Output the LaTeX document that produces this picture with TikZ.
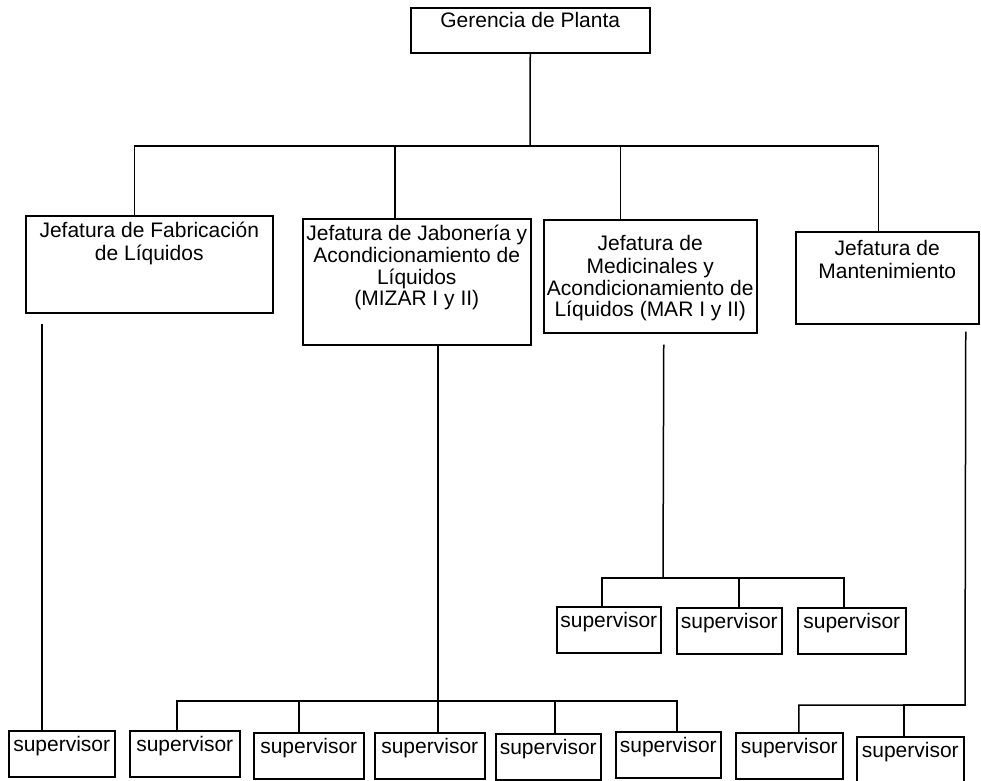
\documentclass[tikz,border=0pt]{standalone}
\usepackage{fontspec}
\setmainfont{Liberation Sans}
\newcommand{\cajatexto}[4]{\parbox[t][#2][t]{#1}{\centering\vspace*{#3}\strut #4}}
\tikzset{
  caja/.style={draw, line width=1.5pt, inner sep=0pt, anchor=north west,
    font=\fontsize{21}{21.5}\selectfont},
  linea/.style={line width=1.5pt}
}
\begin{document}
\begin{tikzpicture}[x=1pt,y=-1pt]
    \useasboundingbox (0,0) rectangle (981,780);
    % gerencia y jefaturas
    \node[caja] (ger) at (410,7) {\cajatexto{239pt}{45pt}{5pt}{Gerencia de Planta}};
    \node[caja] (fab) at (25,215) {\cajatexto{247pt}{97pt}{6pt}{Jefatura de Fabricación\\de Líquidos}};
    \node[caja] (jab) at (302,218) {\cajatexto{228pt}{126pt}{6pt}{Jefatura de Jabonería y\\Acondicionamiento de\\Líquidos\\(MIZAR I y II)}};
    \node[caja] (med) at (543,219) {\cajatexto{213pt}{113pt}{16pt}{Jefatura de\\Medicinales y\\Acondicionamiento de\\Líquidos (MAR I y II)}};
    \node[caja] (man) at (795,231) {\cajatexto{183pt}{92pt}{9pt}{Jefatura de\\Mantenimiento}};
    % supervisores
    \foreach \n/\x/\y/\w in {sF/8/730/106, sG/129/730/110, sH/253/732/110,
        sI/374/732/110, sJ/495/733/105, sK/615/731/105, sA/556/606/104,
        sB/676/607/105, sC/797/607/108, sD/735/732/107, sE/856/736/107}
      \node[caja] (\n) at (\x,\y) {\cajatexto{\w pt}{46pt}{6pt}{supervisor}};
    % conectores
    \coordinate (bus) at (530,146);
    \draw[linea] (ger.south) -- (bus);
    \draw[linea] ([xshift=-15pt]fab.north) |- (bus) -| ([xshift=-9pt]man.north);
    \draw[linea] ([xshift=-22pt]jab.north) -- ([xshift=-22pt]jab.north |- bus);
    \draw[linea] ([xshift=-30pt]med.north) -- ([xshift=-30pt]med.north |- bus);
    \coordinate (fabB) at ([shift={(17pt,-10pt)}]fab.south west);
    \draw[linea] (fabB) -- (fabB |- sF.north);
    \coordinate (busJ) at (437,701);
    \draw[linea] ([xshift=21pt]jab.south) -- ([xshift=21pt]jab.south |- sI.north);
    \draw[linea] ([xshift=-8pt]sG.north) |- (busJ) -| ([xshift=8.5pt]sK.north);
    \draw[linea] ([xshift=-10pt]sH.north) |- (busJ);
    \draw[linea] ([xshift=6.5pt]sJ.north) |- (busJ);
    \coordinate (busM) at (663,578);
    \draw[linea] ([shift={(13.5pt,-11pt)}]med.south) -- (busM);
    \draw[linea] ([xshift=-7pt]sA.north) |- (busM) -| ([xshift=-8pt]sC.north);
    \draw[linea] ([xshift=9.5pt]sB.north) |- (busM);
    \coordinate (manB) at ([shift={(78.5pt,-7pt)}]man.south);
    \coordinate (busX) at (965,705);
    \draw[linea] (manB) -- (busX) -| ([xshift=9.5pt]sD.north);
    \draw[linea] ([xshift=-6.5pt]sE.north) |- (busX);
\end{tikzpicture}
\end{document}
